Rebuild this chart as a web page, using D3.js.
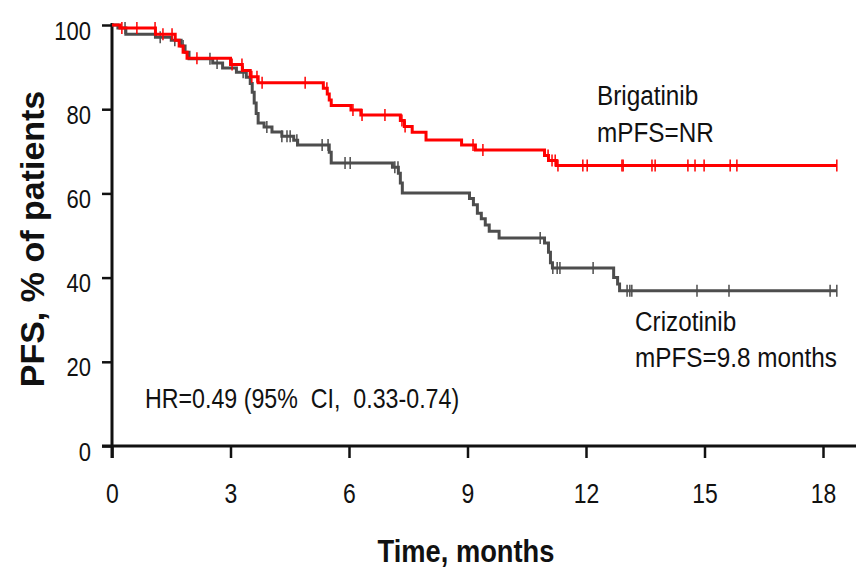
<!DOCTYPE html>
<html>
<head>
<meta charset="utf-8">
<script src="https://cdn.jsdelivr.net/npm/d3@7"></script>
<style>
  body { margin: 0; background: #fff; }
  svg { display: block; font-family: "Liberation Sans", Arial, sans-serif; }
  text { white-space: pre; }
</style>
</head>
<body>
<div id="chart"></div>
<script>
// step events (months, % progression free)
var brigTimes = [0, 0.2, 1.1, 1.6, 1.7, 1.8, 1.9, 3.0, 3.3, 3.5, 3.7, 5.35, 5.45, 5.5, 5.55, 6.05, 6.3, 7.3, 7.4, 7.6, 7.95, 8.85, 9.2, 10.95, 11.05, 11.25];
var brigSurv  = [100, 99.3, 97.8, 96.4, 95.0, 93.5, 92.1, 90.6, 89.2, 87.7, 86.3, 85.0, 83.6, 82.2, 80.9, 79.8, 78.6, 77.3, 75.9, 74.5, 72.7, 71.5, 70.3, 69.0, 67.8, 66.6];
var brigCensor = [0.25, 0.63, 1.09, 1.29, 1.52, 2.15, 3.04, 3.29, 3.54, 3.67, 3.8, 4.89, 5.44, 6.1, 6.33, 6.91, 7.34, 7.42, 9.14, 9.39, 11.04, 11.14, 11.22, 11.29, 11.92, 12.03, 12.91, 12.94, 13.67, 13.75, 14.58, 14.76, 14.99, 15.65, 15.82, 18.35];

var crizTimes = [0, 0.15, 0.35, 1.1, 1.5, 1.75, 1.85, 1.95, 2.55, 2.8, 3.15, 3.4, 3.5, 3.55, 3.6, 3.65, 3.7, 3.85, 4.05, 4.3, 4.6, 4.7, 5.5, 5.55, 7.1, 7.25, 7.3, 7.35, 9.05, 9.15, 9.25, 9.35, 9.45, 9.55, 9.8, 10.95, 11.05, 11.1, 11.15, 12.7, 12.8, 12.85];
var crizSurv  = [100, 99.3, 97.8, 97.1, 96.4, 95.0, 93.5, 92.0, 91.0, 89.8, 88.8, 87.6, 86.1, 84.0, 81.5, 79.0, 76.7, 75.8, 74.6, 73.6, 72.6, 71.5, 69.8, 67.2, 66.2, 64.8, 62.5, 60.1, 58.8, 57.3, 55.3, 54.0, 52.5, 51.0, 49.4, 48.2, 46.0, 43.5, 42.3, 40.0, 38.5, 36.9];
var crizCensor = [0.33, 1.22, 1.59, 1.8, 2.48, 2.66, 3.32, 3.92, 4.3, 4.43, 4.51, 4.68, 5.32, 5.47, 5.9, 6.03, 7.16, 7.24, 10.84, 11.16, 11.27, 11.34, 12.18, 13.04, 13.11, 13.16, 14.81, 15.62, 18.18, 18.35];

var endTime = 18.35;
var xTicks = [0, 3, 6, 9, 12, 15, 18];
var yTicks = [0, 20, 40, 60, 80, 100];

var width = 859, height = 570;

var svg = d3.select("#chart").append("svg")
    .attr("width", width)
    .attr("height", height);

svg.append("rect").attr("width", width).attr("height", height).attr("fill", "#fff");

var x = d3.scaleLinear().domain([0, 18]).range([112, 823]);
var y = d3.scaleLinear().domain([0, 100]).range([446, 25]);

// axes
var xAxis = svg.append("g")
    .attr("transform", "translate(0," + y(0) + ")")
    .call(d3.axisBottom(x).tickValues(xTicks).tickSize(12).tickSizeOuter(0));
xAxis.select(".domain").remove();
xAxis.selectAll(".tick line").attr("stroke", "#111").attr("stroke-width", 2.5);
xAxis.selectAll(".tick text")
    .attr("y", 0).attr("dy", 0)
    .attr("fill", "#111")
    .attr("font-size", 28)
    .attr("text-anchor", "middle")
    .attr("transform", function () {
        return "translate(0,57) scale(0.82,1)";
    })
    .attr("x", 0);

var yAxis = svg.append("g")
    .attr("transform", "translate(" + x(0) + ",0)")
    .call(d3.axisLeft(y).tickValues(yTicks).tickSize(10).tickSizeOuter(0));
yAxis.select(".domain").remove();
yAxis.selectAll(".tick line").attr("stroke", "#111").attr("stroke-width", 2.5);
yAxis.selectAll(".tick text")
    .attr("x", 0).attr("dy", 0)
    .attr("fill", "#111")
    .attr("font-size", 25)
    .attr("text-anchor", "end")
    .attr("transform", "translate(-21,14) scale(0.88,1)");

// axis lines
svg.append("line")
    .attr("x1", x(0)).attr("x2", x(0))
    .attr("y1", y(100) - 2).attr("y2", y(0) + 12)
    .attr("stroke", "#111").attr("stroke-width", 3);
svg.append("line")
    .attr("x1", x(0) - 10).attr("x2", 856)
    .attr("y1", y(0)).attr("y2", y(0))
    .attr("stroke", "#111").attr("stroke-width", 3);

// curves
var stepLine = d3.line()
    .x(function (d) { return x(d[0]); })
    .y(function (d) { return y(d[1]); })
    .curve(d3.curveStepAfter);

function curvePoints(times, surv) {
    var pts = times.map(function (t, i) { return [t, surv[i]]; });
    pts.push([endTime, surv[surv.length - 1]]);
    return pts;
}

function survAt(times, surv, t) {
    var i = d3.bisectRight(times, t) - 1;
    return surv[Math.max(0, i)];
}

function drawArm(times, surv, censor, color) {
    svg.append("path")
        .datum(curvePoints(times, surv))
        .attr("d", stepLine)
        .attr("fill", "none")
        .attr("stroke", color)
        .attr("stroke-width", 3);
    svg.append("g").selectAll("line")
        .data(censor)
        .enter().append("line")
        .attr("x1", function (d) { return x(d); })
        .attr("x2", function (d) { return x(d); })
        .attr("y1", function (d) { return y(survAt(times, surv, d)) - 6; })
        .attr("y2", function (d) { return y(survAt(times, surv, d)) + 6; })
        .attr("stroke", color)
        .attr("stroke-width", 1.5);
}

drawArm(crizTimes, crizSurv, crizCensor, "#4d4d4d");
drawArm(brigTimes, brigSurv, brigCensor, "#ff0000");

// annotations
function label(txt, px, py, size, sx, weight) {
    svg.append("text")
        .attr("transform", "translate(" + px + "," + py + ") scale(" + sx + ",1)")
        .attr("font-size", size)
        .attr("font-weight", weight || "normal")
        .attr("fill", "#111")
        .text(txt);
}

label("Brigatinib", 597, 105, 27, 0.9);
label("mPFS=NR", 597, 142, 27, 0.9);
label("Crizotinib", 635, 331, 27, 0.9);
label("mPFS=9.8 months", 635, 367, 27, 0.9);
label("HR=0.49 (95%  CI,  0.33-0.74)", 145, 408, 27, 0.86);

svg.append("text")
    .attr("transform", "translate(466,562) scale(0.88,1)")
    .attr("text-anchor", "middle")
    .attr("font-size", 31)
    .attr("font-weight", "bold")
    .attr("fill", "#111")
    .text("Time, months");

svg.append("text")
    .attr("transform", "translate(44,239) scale(0.95,1) rotate(-90)")
    .attr("text-anchor", "middle")
    .attr("font-size", 34)
    .attr("font-weight", "bold")
    .attr("fill", "#111")
    .text("PFS, % of patients");
</script>
</body>
</html>
